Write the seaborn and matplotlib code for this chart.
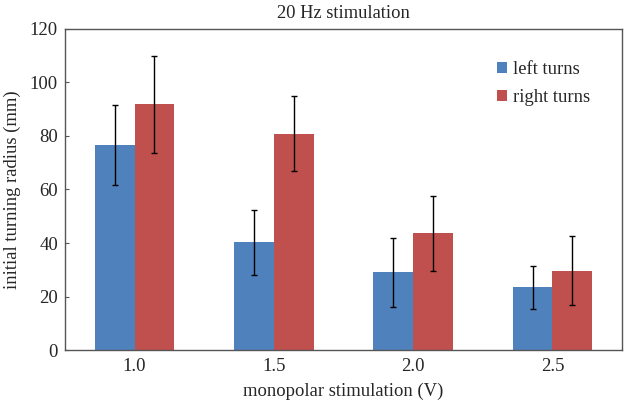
import pandas as pd
import seaborn as sns
import matplotlib.pyplot as plt

voltages = ["1.0", "1.5", "2.0", "2.5"]
left_turns = [76.7, 40.2, 29.0, 23.4]
right_turns = [91.8, 80.8, 43.6, 29.7]
left_err = [15.0, 12.0, 13.0, 8.0]
right_err = [18.0, 14.0, 13.9, 12.9]

df = pd.DataFrame({
    "voltage": voltages * 2,
    "radius": left_turns + right_turns,
    "turn": ["left turns"] * 4 + ["right turns"] * 4,
})

sns.set_theme(style="white")
plt.rcParams["font.family"] = ["Liberation Serif", "DejaVu Serif"]

fig = plt.figure(figsize=(6.24, 4.01), dpi=100)
ax = fig.add_axes([0.104, 0.127, 0.893, 0.801])

sns.barplot(
    data=df,
    x="voltage",
    y="radius",
    hue="turn",
    palette=["#4F81BD", "#C0504D"],
    errorbar=None,
    width=0.57,
    saturation=1,
    linewidth=0,
    ax=ax
)

for cont, errs in zip(ax.containers, [left_err, right_err]):
    xs = [p.get_x() + p.get_width() / 2 for p in cont.patches]
    ys = [p.get_height() for p in cont.patches]
    ax.errorbar(xs, ys, yerr=errs, fmt="none", ecolor="black",
                elinewidth=1, capsize=2.5, capthick=1)

ax.set_xlim(-0.5, 3.5)
ax.set_ylim(0, 120)
ax.set_yticks(range(0, 121, 20))
ax.set_title("20 Hz stimulation", fontsize=13.3, pad=8)
ax.set_xlabel("monopolar stimulation (V)", fontsize=13.4, labelpad=5)
ax.set_ylabel("initial turning radius (mm)", fontsize=13.4, labelpad=6)
ax.tick_params(axis="both", labelsize=13.5)
ax.tick_params(axis="y", direction="in", length=3, width=0.8, color="#555555",
               left=True, pad=5)
ax.tick_params(axis="x", length=0, pad=6)

for s in ax.spines.values():
    s.set_color("#555555")
    s.set_linewidth(1)

ax.legend(loc="upper left", bbox_to_anchor=(0.759, 0.928), frameon=False,
          fontsize=13.4, borderpad=0, handlelength=0.55, handleheight=0.55,
          handletextpad=0.3, labelspacing=0.6)

fig.savefig("out.png", dpi=100)
